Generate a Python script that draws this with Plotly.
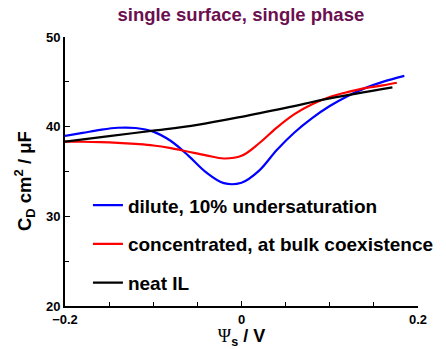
import plotly.graph_objects as go

# Data
blue_x = [-0.20, -0.18, -0.16, -0.14, -0.12, -0.10, -0.08, -0.06, -0.04, -0.02,
          0.00, 0.02, 0.04, 0.06, 0.08, 0.10, 0.12, 0.14, 0.16, 0.1845]
blue_y = [38.97, 39.3, 39.65, 39.88, 39.85, 39.45, 38.4, 36.75, 34.9, 33.7,
          33.75, 35.1, 37.4, 39.35, 40.95, 42.3, 43.4, 44.3, 45.0, 45.67]

red_x = [-0.20, -0.18, -0.16, -0.14, -0.12, -0.10, -0.08, -0.06, -0.04, -0.02,
         0.00, 0.02, 0.04, 0.06, 0.08, 0.10, 0.12, 0.14, 0.16, 0.176]
red_y = [38.33, 38.32, 38.28, 38.2, 38.07, 37.9, 37.6, 37.2, 36.8, 36.45,
         36.75, 38.15, 39.9, 41.4, 42.5, 43.3, 43.85, 44.3, 44.6, 44.9]

black_x = [-0.2, -0.15, -0.10, -0.05, 0.0, 0.05, 0.10, 0.171]
black_y = [38.33, 38.95, 39.55, 40.2, 41.1, 42.1, 43.15, 44.38]

names = ["dilute, 10% undersaturation", "concentrated, at bulk coexistence", "neat IL"]
colors = ["#0000ff", "#ff0000", "#000000"]

x_ticks = [-0.2, 0, 0.2]
x_ticklabels = ["\u22120.2", "0", "0.2"]
y_ticks = [20, 30, 40, 50]

FONT = "Liberation Sans, Arial, sans-serif"

fig = go.Figure()
for i, (xs, ys) in enumerate([(blue_x, blue_y), (red_x, red_y), (black_x, black_y)]):
    fig.add_trace(go.Scatter(
        x=xs, y=ys, mode="lines", name="<b>%s</b>" % names[i],
        line=dict(color=colors[i], width=2.2, shape="spline", smoothing=1.0),
        legendgroup=str(i),
    ))

fig.update_layout(
    width=446, height=349,
    margin=dict(l=65, r=28, t=37, b=43, autoexpand=False),
    paper_bgcolor="white", plot_bgcolor="white",
    font=dict(family=FONT, color="black"),
    title=dict(text="<b>single surface, single phase</b>", x=0.54, xanchor="center",
               y=0.957, yanchor="middle",
               font=dict(size=18.5, color="#6b0f4f", family=FONT)),
    showlegend=True,
    legend=dict(x=0.065, y=0.445, xanchor="left", yanchor="top",
                bgcolor="rgba(0,0,0,0)", font=dict(size=19, family=FONT),
                tracegroupgap=11, itemwidth=30),
    annotations=[dict(
        text="<b>C<sub>D</sub> cm<sup>2</sup> / \u03bcF</b>",
        xref="paper", yref="paper", x=-0.113, y=0.465,
        xanchor="center", yanchor="middle", textangle=-90, showarrow=False,
        font=dict(size=18.5, family=FONT, color="black"),
    )],
)

fig.update_xaxes(
    range=[-0.2, 0.2], tickvals=x_ticks, ticktext=["<b>%s</b>" % t for t in x_ticklabels],
    showline=True, linecolor="black", linewidth=2, mirror=False,
    ticks="inside", ticklen=5, tickcolor="black", tickwidth=1,
    minor=dict(dtick=0.05, tick0=0, ticks="inside", ticklen=4, tickcolor="black", showgrid=False),
    showgrid=False, zeroline=False,
    tickfont=dict(size=13, family=FONT),
    title=dict(text="<span style='font-family:Liberation Serif, serif;font-weight:normal'>\u03a8</span><sub><b>s</b></sub><b> / V</b>",
               font=dict(size=18, family=FONT), standoff=4),
)
fig.update_yaxes(
    range=[20, 50], tickvals=y_ticks, ticktext=["<b>%d</b>" % v for v in y_ticks],
    showline=True, linecolor="black", linewidth=2, mirror=False,
    ticks="inside", ticklen=5, tickcolor="black", tickwidth=1,
    minor=dict(dtick=5, tick0=0, ticks="inside", ticklen=4, tickcolor="black", showgrid=False),
    showgrid=False, zeroline=False,
    tickfont=dict(size=13, family=FONT),
)

fig.write_html("out.html")
